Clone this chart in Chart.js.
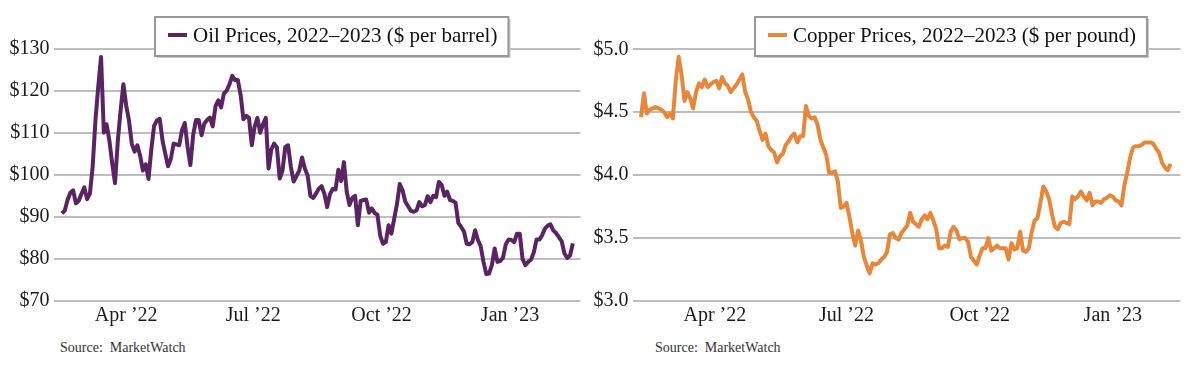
<!DOCTYPE html>
<html lang="en">
<head>
<meta charset="UTF-8">
<title>Oil & Copper Prices, 2022–2023</title>
<script src="https://cdn.jsdelivr.net/npm/chart.js"></script>
<style>
  body { margin: 0; background: #fff; width: 1200px; height: 366px; overflow: hidden; position: relative; font-family: "Liberation Serif", serif; }
  canvas { position: absolute; top: 0; }
  #oilChart { left: 0; }
  #copperChart { left: 580px; }
  .source { position: absolute; top: 340px; font-size: 14px; color: #333; white-space: pre; }
</style>
</head>
<body>
<canvas id="oilChart" width="600" height="330"></canvas>
<canvas id="copperChart" width="620" height="330"></canvas>
<div class="source" style="left:60px">Source:  MarketWatch</div>
<div class="source" style="left:655px">Source:  MarketWatch</div>

<script>
// day numbers counted from 1 Jan 2022
const quarterDays = [90, 181, 273, 365];
const quarterLabels = ['Apr ’22', 'Jul ’22', 'Oct ’22', 'Jan ’23'];
const stepDays = 2;

const oilStartDay = 44;
const oilPrices = [
  90.8, 91.5, 94.0, 95.7, 96.3, 93.2, 93.8, 95.5, 97.0, 94.2,
  95.5, 102, 113, 121, 128, 110, 112, 108, 102.7, 98,
  108, 115.3, 121.5, 116.5, 112.9, 107.4, 105.5, 107, 104.5, 101,
  102.5, 99, 106, 111.6, 112.9, 113.3, 108.2, 105, 102, 103.8,
  107.4, 107.2, 107, 110.6, 112.3, 106.6, 102.3, 109.5, 113, 113,
  109.4, 112.2, 113, 113.6, 111.5, 116.3, 117.7, 116, 119.3, 120,
  121.5, 123.5, 122.5, 122.5, 119, 113.2, 114, 113.5, 107, 111.4,
  113.5, 110, 112, 113.5, 101.5, 106, 107.4, 106.5, 99.1, 101,
  106.6, 107, 101.9, 98.4, 99.7, 101, 104.1, 101.5, 99.8, 95,
  94.5, 95.5, 96.7, 97.3, 95.5, 92.3, 95.4, 96.6, 96.5, 101.2,
  98.5, 103, 96, 92.8, 94.5, 95, 88, 93.8, 94, 94.1,
  91, 92, 90.9, 90.5, 85.5, 83.6, 84, 88, 86, 89.5,
  93, 97.8, 96.3, 93.6, 92.5, 91.4, 91.2, 91.5, 93.5, 92.5,
  92.8, 94.9, 93.5, 95, 94.7, 98.3, 97.6, 95, 96, 94,
  93.8, 93.3, 88.5, 87.6, 86.5, 83.6, 83.5, 84, 86.8, 84.5,
  83, 79.3, 76.4, 76.5, 78.5, 82.5, 79.3, 79.5, 80.3, 83.5,
  84.6, 84.5, 84, 86, 86, 80, 78.5, 79.3, 79.8, 81.5,
  84.6, 84.6, 85.6, 87.2, 87.9, 88.2, 86.8, 86.1, 85.2, 84.2,
  81.3, 80.2, 80.8, 83.7
];

const copperStartDay = 39;
const copperPrices = [
  4.46, 4.65, 4.49, 4.52, 4.53, 4.54, 4.53, 4.52, 4.50, 4.46,
  4.49, 4.45, 4.75, 4.94, 4.80, 4.59, 4.66, 4.61, 4.53, 4.66,
  4.73, 4.70, 4.76, 4.70, 4.72, 4.74, 4.75, 4.69, 4.78, 4.73,
  4.71, 4.66, 4.69, 4.72, 4.76, 4.80, 4.66, 4.60, 4.50, 4.46,
  4.43, 4.35, 4.28, 4.33, 4.23, 4.20, 4.18, 4.10, 4.15, 4.17,
  4.24, 4.27, 4.31, 4.33, 4.26, 4.31, 4.31, 4.55, 4.47, 4.45,
  4.46, 4.40, 4.28, 4.22, 4.16, 4.02, 4.02, 4.03, 3.95, 3.74,
  3.75, 3.78, 3.67, 3.54, 3.44, 3.56, 3.48, 3.35, 3.28, 3.22,
  3.30, 3.29, 3.30, 3.33, 3.35, 3.39, 3.53, 3.54, 3.50, 3.49,
  3.54, 3.57, 3.60, 3.70, 3.63, 3.61, 3.59, 3.65, 3.68, 3.65,
  3.70, 3.64, 3.57, 3.42, 3.42, 3.44, 3.43, 3.55, 3.59, 3.56,
  3.49, 3.50, 3.50, 3.47, 3.35, 3.32, 3.29, 3.36, 3.42, 3.42,
  3.50, 3.40, 3.42, 3.44, 3.42, 3.42, 3.42, 3.33, 3.46, 3.41,
  3.42, 3.55, 3.40, 3.39, 3.42, 3.55, 3.64, 3.66, 3.78, 3.91,
  3.87, 3.81, 3.69, 3.59, 3.57, 3.62, 3.63, 3.62, 3.61, 3.83,
  3.81, 3.83, 3.87, 3.83, 3.80, 3.86, 3.76, 3.79, 3.79, 3.78,
  3.81, 3.82, 3.84, 3.83, 3.80, 3.79, 3.76, 3.92, 4.02, 4.14,
  4.22, 4.23, 4.23, 4.24, 4.26, 4.26, 4.26, 4.25, 4.21, 4.18,
  4.10, 4.06, 4.04, 4.09
];

Chart.defaults.font.family = '"Liberation Serif", serif';
Chart.defaults.color = '#1a1a1a';

// legend drawn as a boxed label sitting over the top gridline
const boxLegend = {
  id: 'boxLegend',
  afterDraw(chart, args, opts) {
    const ctx = chart.ctx;
    const ds = chart.data.datasets[0];
    ctx.save();
    ctx.font = '21px "Liberation Serif"';
    const w = 38 + ctx.measureText(ds.label).width + 11;
    const x = opts.left, y = 17, h = 39;
    ctx.fillStyle = '#c8c8c8';
    ctx.fillRect(x + 2, y + 2, w, h);
    ctx.fillStyle = '#fff';
    ctx.fillRect(x, y, w, h);
    ctx.strokeStyle = '#999';
    ctx.lineWidth = 2;
    ctx.strokeRect(x, y, w, h);
    ctx.strokeStyle = ds.borderColor;
    ctx.lineWidth = 4;
    ctx.beginPath();
    ctx.moveTo(x + 13, 35);
    ctx.lineTo(x + 32, 35);
    ctx.stroke();
    ctx.fillStyle = '#111';
    ctx.textBaseline = 'alphabetic';
    ctx.fillText(ds.label, x + 38, 42);
    ctx.restore();
  }
};

function makeChart(id, label, color, startDay, prices, xMin, xMax, yMin, yMax, yStep, fmt, axisW, padTop, legendLeft) {
  const points = prices.map((v, i) => ({ x: startDay + i * stepDays, y: v }));
  return new Chart(document.getElementById(id), {
    type: 'line',
    data: {
      datasets: [{
        label: label,
        data: points,
        borderColor: color,
        borderWidth: 4,
        borderJoinStyle: 'round',
        pointRadius: 0,
        tension: 0,
        fill: false
      }]
    },
    options: {
      responsive: false,
      animation: false,
      devicePixelRatio: 1,
      layout: { padding: { top: padTop, right: 19.5, bottom: 0, left: 0 } },
      plugins: {
        legend: { display: false },
        tooltip: { enabled: false },
        boxLegend: { left: legendLeft }
      },
      scales: {
        x: {
          type: 'linear',
          min: xMin,
          max: xMax,
          afterBuildTicks: s => { s.ticks = quarterDays.map(d => ({ value: d })); },
          afterFit: s => { s.height = 29; },
          grid: { display: false },
          border: { display: false },
          ticks: {
            autoSkip: false,
            maxRotation: 0,
            padding: -5,
            font: { size: 20 },
            callback: v => quarterLabels[quarterDays.indexOf(v)]
          }
        },
        y: {
          min: yMin,
          max: yMax,
          afterFit: s => { s.width = axisW; },
          grid: { color: '#bdbdbd', lineWidth: 2, drawTicks: false },
          border: { display: false },
          ticks: {
            stepSize: yStep,
            padding: 4,
            font: { size: 20 },
            callback: fmt
          }
        }
      }
    },
    plugins: [boxLegend]
  });
}

makeChart('oilChart', 'Oil Prices, 2022–2023 ($ per barrel)', '#5a2363',
  oilStartDay, oilPrices, 38, 415.5, 70, 130, 10, v => '$' + v, 53.6, 48.5, 155);

makeChart('copperChart', 'Copper Prices, 2022–2023 ($ per pound)', '#e8873a',
  copperStartDay, copperPrices, 33.1, 411.8, 3, 5, 0.5, v => '$' + v.toFixed(1), 52.5, 49.3, 175);
</script>
</body>
</html>
